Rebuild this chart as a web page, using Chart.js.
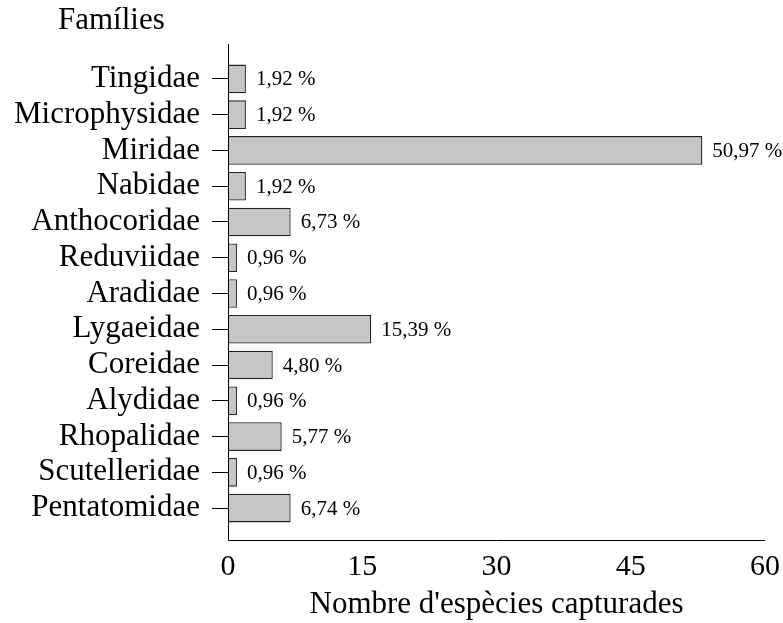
<!DOCTYPE html>
<html>
<head>
<meta charset="utf-8">
<script src="https://cdn.jsdelivr.net/npm/chart.js@4"></script>
<style>
  html, body { margin: 0; padding: 0; background: #fff; }
  #wrap { width: 783px; height: 623px; }
</style>
</head>
<body>
<div id="wrap"><canvas id="chart" width="783" height="623"></canvas></div>
<script>
const families = ["Tingidae", "Microphysidae", "Miridae", "Nabidae", "Anthocoridae", "Reduviidae",
  "Aradidae", "Lygaeidae", "Coreidae", "Alydidae", "Rhopalidae", "Scutelleridae", "Pentatomidae"];
const species = [2, 2, 53, 2, 7, 1, 1, 16, 5, 1, 6, 1, 7];
const percentLabels = ["1,92 %", "1,92 %", "50,97 %", "1,92 %", "6,73 %", "0,96 %",
  "0,96 %", "15,39 %", "4,80 %", "0,96 %", "5,77 %", "0,96 %", "6,74 %"];
const xTicks = [0, 15, 30, 45, 60];

const serif = "'Liberation Serif', 'Times New Roman', serif";

// axis lines, y title and the percentage labels
const extras = {
  id: "extras",
  afterDraw(chart) {
    const { ctx, chartArea } = chart;
    const meta = chart.getDatasetMeta(0);
    ctx.save();
    ctx.strokeStyle = "#000";
    ctx.lineWidth = 1;
    ctx.beginPath();
    ctx.moveTo(chartArea.left + 0.5, chartArea.top - 17);
    ctx.lineTo(chartArea.left + 0.5, chartArea.bottom + 14.5);
    ctx.lineTo(chartArea.right, chartArea.bottom + 14.5);
    ctx.stroke();

    ctx.fillStyle = "#000";
    ctx.font = "21px " + serif;
    ctx.textBaseline = "middle";
    ctx.textAlign = "left";
    meta.data.forEach((bar, i) => {
      ctx.fillText(percentLabels[i], bar.x + 10, bar.y + 1);
    });

    ctx.font = "31px " + serif;
    ctx.fillText("Famílies", 58, 21);
    ctx.restore();
  }
};

new Chart(document.getElementById("chart"), {
  type: "bar",
  data: {
    labels: families,
    datasets: [{
      data: species,
      backgroundColor: "#c6c6c6",
      borderColor: "#222",
      borderWidth: 1.3,
      borderSkipped: false,
      barPercentage: 0.8,
      categoryPercentage: 1
    }]
  },
  options: {
    indexAxis: "y",
    responsive: false,
    animation: false,
    layout: { padding: { top: 61, right: 0, left: 0, bottom: 0 } },
    plugins: {
      legend: { display: false },
      tooltip: { enabled: false }
    },
    scales: {
      x: {
        min: 0,
        max: 60,
        afterBuildTicks(scale) {
          scale.ticks = xTicks.map(v => ({ value: v }));
        },
        afterFit(scale) {
          scale.height = 97;
          scale.paddingRight = 18;
          scale.paddingLeft = 0;
        },
        grid: { display: false, drawTicks: false },
        border: { display: false },
        ticks: {
          color: "#000",
          padding: 23,
          maxRotation: 0,
          font: { family: serif, size: 30 }
        },
        title: {
          display: true,
          text: "Nombre d'espècies capturades",
          color: "#000",
          padding: { top: 8, bottom: 0 },
          font: { family: serif, size: 31 }
        }
      },
      y: {
        afterFit(scale) { scale.width = 228; },
        grid: {
          drawOnChartArea: false,
          drawTicks: true,
          offset: false,
          tickLength: 16,
          color: "#000",
          lineWidth: 1
        },
        border: { display: false },
        ticks: {
          color: "#000",
          padding: 12,
          autoSkip: false,
          font: { family: serif, size: 31 }
        }
      }
    }
  },
  plugins: [extras]
});
</script>
</body>
</html>
